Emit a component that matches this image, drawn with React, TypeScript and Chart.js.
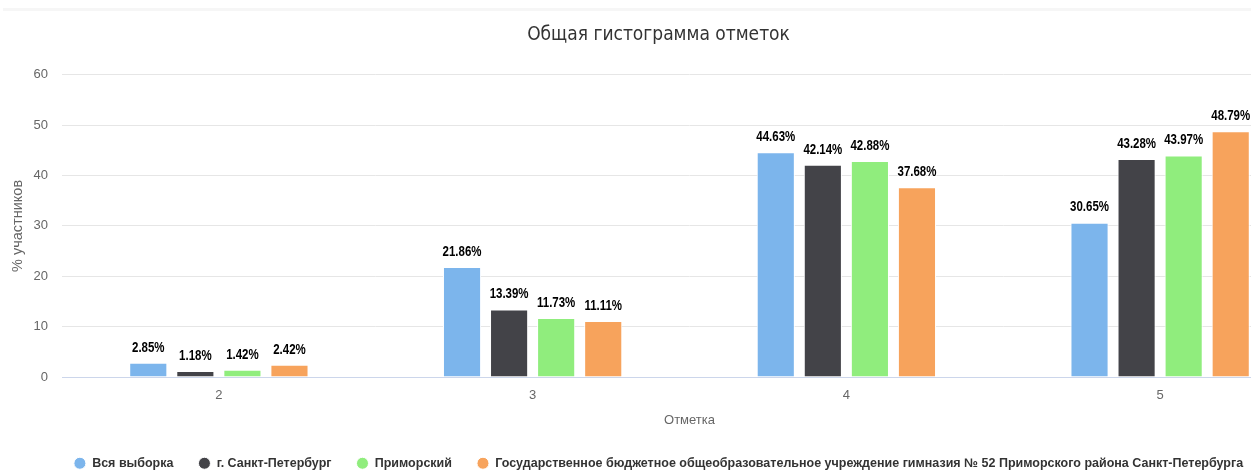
import React, { useEffect, useRef } from "react";
import { Chart, registerables } from "chart.js";

Chart.register(...registerables);

const categories = ["2", "3", "4", "5"];
const seriesNames = [
  "Вся выборка",
  "г. Санкт-Петербург",
  "Приморский",
  "Государственное бюджетное общеобразовательное учреждение гимназия № 52 Приморского района Санкт-Петербурга",
];
const allSample = [2.85, 21.86, 44.63, 30.65];
const spb = [1.18, 13.39, 42.14, 43.28];
const primorsky = [1.42, 11.73, 42.88, 43.97];
const school = [2.42, 11.11, 37.68, 48.79];
const colors = ["#7cb5ec", "#434348", "#90ed7d", "#f7a35c"];
const yTicks = [0, 10, 20, 30, 40, 50, 60];

const titleText = "Общая гистограмма отметок";
const yTitle = "% участников";
const xTitle = "Отметка";

const SANS = "'Liberation Sans', Arial, sans-serif";
const COND = "'DejaVu Sans Condensed', 'DejaVu Sans', sans-serif";

const dataLabels = {
  id: "dataLabels",
  afterDatasetsDraw(chart: any) {
    const ctx = chart.ctx;
    ctx.save();
    ctx.font = `bold 14px ${SANS}`;
    ctx.textAlign = "center";
    ctx.textBaseline = "middle";
    ctx.lineJoin = "round";
    chart.data.datasets.forEach((ds: any, i: number) => {
      const meta = chart.getDatasetMeta(i);
      if (meta.hidden) return;
      meta.data.forEach((el: any, j: number) => {
        const txt = ds.data[j].toFixed(2) + "%";
        ctx.save();
        ctx.translate(el.x, el.y - 15);
        ctx.scale(0.82, 1);
        ctx.strokeStyle = "#ffffff";
        ctx.lineWidth = 2;
        ctx.strokeText(txt, 0, 0);
        ctx.fillStyle = "#000000";
        ctx.fillText(txt, 0, 0);
        ctx.restore();
      });
    });
    ctx.restore();
  },
};

const topLine = {
  id: "topLine",
  beforeDraw(chart: any) {
    const ctx = chart.ctx;
    ctx.save();
    ctx.fillStyle = "#f6f6f6";
    ctx.fillRect(3, 8, chart.width, 3);
    ctx.restore();
  },
};

const legendHeight = {
  id: "legendHeight",
  beforeLayout(chart: any) {
    const lg = chart.legend;
    if (lg && !lg.__patched) {
      const orig = lg.fit.bind(lg);
      lg.fit = function () {
        orig();
        this.height = 60;
      };
      lg.__patched = true;
    }
  },
  afterLayout(chart: any) {
    if (chart.legend) {
      chart.legend.top += 4;
      chart.legend.bottom += 4;
    }
  },
};

export default function App() {
  const ref = useRef<HTMLCanvasElement>(null);
  useEffect(() => {
    if (!ref.current) return;
    const values = [allSample, spb, primorsky, school];
    const chart = new Chart(ref.current, {
      type: "bar",
      data: {
        labels: categories,
        datasets: values.map((v, i) => ({
          label: seriesNames[i],
          data: v,
          backgroundColor: colors[i],
          borderColor: "#ffffff",
          borderWidth: 1,
          categoryPercentage: 0.6,
          barPercentage: 0.81,
        })),
      },
      options: {
        animation: false,
        responsive: true,
        maintainAspectRatio: false,
        layout: { padding: { left: 0, right: 3, top: 0, bottom: 0 } },
        plugins: {
          tooltip: { enabled: false },
          title: {
            display: true,
            text: titleText,
            color: "#333333",
            font: { family: COND, size: 19, weight: "normal", lineHeight: 1.2 },
            padding: { top: 24, bottom: 28 },
          },
          legend: {
            position: "bottom",
            labels: {
              usePointStyle: true,
              pointStyle: "circle",
              boxWidth: 12,
              boxHeight: 8.5,
              padding: 25,
              color: "#333333",
              font: { family: SANS, size: 12.5, weight: "bold" },
            },
          },
        },
        scales: {
          x: {
            grid: { display: false },
            border: { display: true, color: "#ccd6eb", width: 1 },
            ticks: { color: "#666666", font: { family: SANS, size: 13 }, padding: 3 },
            title: {
              display: true,
              text: xTitle,
              color: "#666666",
              font: { family: SANS, size: 13 },
              padding: { top: 4, bottom: 0 },
            },
            afterFit(scale: any) {
              scale.height = 51;
            },
          },
          y: {
            min: 0,
            max: 60,
            afterBuildTicks(scale: any) {
              scale.ticks = yTicks.map((v) => ({ value: v }));
            },
            grid: {
              color: (c: any) => (c.tick && c.tick.value === 0 ? "#ccd6eb" : "#e6e6e6"),
              drawTicks: false,
            },
            border: { display: false },
            ticks: { color: "#666666", font: { family: SANS, size: 13 }, padding: 14 },
            title: {
              display: true,
              text: yTitle,
              color: "#666666",
              font: { family: SANS, size: 14.5 },
              padding: { top: 9, bottom: 0 },
            },
            afterFit(scale: any) {
              scale.width = 62;
            },
          },
        },
      },
      plugins: [dataLabels, topLine, legendHeight],
    });
    return () => chart.destroy();
  }, []);
  return (
    <div style={{ position: "absolute", left: 0, top: 0, width: 1251, height: 470, overflow: "hidden", background: "#fff" }}>
      <div style={{ position: "relative", width: 1320, height: 488 }}>
        <canvas ref={ref} />
      </div>
    </div>
  );
}
